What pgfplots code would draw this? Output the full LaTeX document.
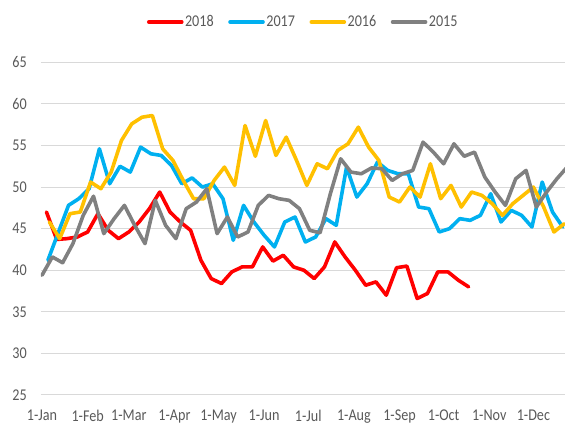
\documentclass[border=0pt]{standalone}
\usepackage{fontspec}
\setmainfont{Carlito}[FakeStretch=0.86]
\usepackage{pgfplots}
\pgfplotsset{compat=1.18}
\usepackage{pgfplotstable}
\definecolor{cred}{HTML}{FF0000}
\definecolor{cblue}{HTML}{00B0F0}
\definecolor{corange}{HTML}{FFC000}
\definecolor{cgrey}{HTML}{808080}
\definecolor{ctext}{HTML}{595959}
\definecolor{cgrid}{HTML}{D9D9D9}

\pgfplotstableread{
w v
0 47.0
1 43.7
2 43.8
3 44.0
4 44.6
5 46.8
6 44.8
7 43.8
8 44.6
9 45.8
10 47.4
11 49.4
12 47.0
13 45.8
14 44.8
15 41.2
16 39.0
17 38.4
18 39.8
19 40.4
20 40.4
21 42.8
22 41.1
23 41.8
24 40.4
25 40.0
26 39.0
27 40.4
28 43.4
29 41.6
30 40.0
31 38.2
32 38.6
33 37.0
34 40.3
35 40.5
36 36.6
37 37.2
38 39.8
39 39.8
40 38.8
41 38.0
}\redtab

\pgfplotstableread{
w v
0 41.2
1 44.5
2 47.8
3 48.6
4 49.8
5 54.6
6 50.4
7 52.5
8 51.8
9 54.8
10 54.0
11 53.8
12 52.6
13 50.4
14 51.1
15 50.0
16 50.4
17 48.6
18 43.6
19 47.8
20 45.8
21 44.2
22 42.8
23 45.8
24 46.4
25 43.4
26 44.0
27 46.2
28 45.4
29 52.4
30 48.8
31 50.4
32 53.0
33 52.0
34 51.6
35 51.6
36 47.6
37 47.4
38 44.6
39 45.0
40 46.2
41 46.0
42 46.6
43 49.2
44 45.8
45 47.2
46 46.6
47 45.2
48 50.6
49 47.0
50 45.2
}\bluetab

\pgfplotstableread{
w v
0 45.8
1 43.8
2 46.8
3 47.0
4 50.6
5 49.8
6 51.8
7 55.6
8 57.6
9 58.4
10 58.6
11 54.6
12 53.2
13 50.8
14 48.6
15 48.6
16 50.8
17 52.4
18 50.2
19 57.4
20 53.7
21 58.0
22 53.8
23 56.0
24 53.2
25 50.2
26 52.8
27 52.2
28 54.4
29 55.2
30 57.2
31 54.8
32 53.2
33 48.8
34 48.2
35 50.0
36 48.8
37 52.8
38 48.6
39 50.2
40 47.6
41 49.4
42 49.0
43 48.0
44 46.6
45 48.0
46 49.0
47 50.0
48 47.6
49 44.6
50 45.6
}\orangetab

\pgfplotstableread{
w v
0 39.4
1 41.6
2 40.9
3 43.2
4 46.6
5 48.9
6 44.4
7 46.2
8 47.8
9 45.4
10 43.2
11 48.4
12 45.4
13 43.8
14 47.4
15 48.2
16 49.8
17 44.4
18 46.4
19 44.0
20 44.6
21 47.8
22 49.0
23 48.6
24 48.4
25 47.4
26 44.8
27 44.5
28 49.2
29 53.4
30 51.8
31 51.6
32 52.3
33 52.2
34 50.8
35 51.6
36 52.0
37 55.4
38 54.2
39 52.8
40 55.2
41 53.7
42 54.2
43 51.2
44 49.4
45 47.8
46 51.0
47 52.0
48 47.6
49 49.4
50 51.0
51 52.4
}\greytab

\begin{document}
\begin{tikzpicture}
\useasboundingbox (-41bp,-32bp) rectangle (524bp,395bp);
\begin{axis}[
  at={(0,0)}, anchor=south west,
  scale only axis, width=524bp, height=332.7bp,
  xmin=-0.7, xmax=355.5, ymin=25, ymax=65,
  ytick={25,30,35,40,45,50,55,60,65},
  xtick={0,31,59,90,120,151,181,212,243,273,304,334},
  xticklabels={1-Jan,1-Feb,1-Mar,1-Apr,1-May,1-Jun,1-Jul,1-Aug,1-Sep,1-Oct,1-Nov,1-Dec},
  ymajorgrids, grid style={cgrid, line width=1bp},
  axis line style={draw=none},
  major tick length=0pt,
  tick label style={font=\fontsize{16.5}{19}\selectfont, text=ctext},
  yticklabel style={anchor=east, inner sep=0pt, xshift=-14bp},
  xticklabel style={anchor=north, inner sep=0pt, yshift=-15bp},
  /pgf/number format/assume math mode=true,
  legend columns=4,
  legend image code/.code={\draw[#1] (0bp,0bp) -- (33bp,0bp);},
  legend style={at={(0.5,1.121)}, anchor=center, draw=none, fill=none,
    font=\fontsize{16.5}{19}\selectfont, text=ctext, inner sep=0pt,
    nodes={inner sep=1.5bp},
    /tikz/every even column/.append style={column sep=13bp}},
  every axis plot/.append style={line width=3.6bp, line join=round, line cap=round, no markers},
]
\addplot[cred] table[x expr=\thisrow{w}*7+3, y=v] {\redtab};
\addlegendentry{2018}
\addplot[cblue] table[x expr=\thisrow{w}*7+4, y=v] {\bluetab};
\addlegendentry{2017}
\addplot[corange] table[x expr=\thisrow{w}*7+5, y=v] {\orangetab};
\addlegendentry{2016}
\addplot[cgrey] table[x expr=\thisrow{w}*7, y=v] {\greytab};
\addlegendentry{2015}
\end{axis}
\end{tikzpicture}
\end{document}
